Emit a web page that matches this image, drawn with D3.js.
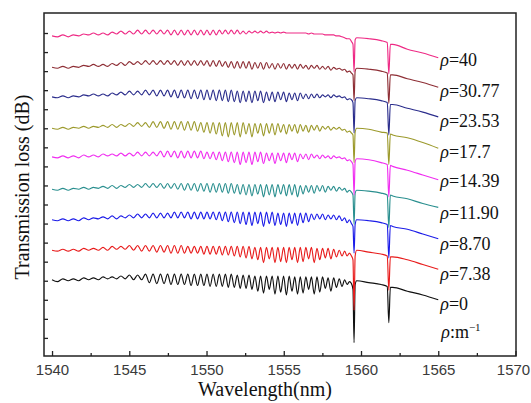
<!DOCTYPE html>
<html><head><meta charset="utf-8">
<script src="https://cdn.jsdelivr.net/npm/d3@7/dist/d3.min.js"></script>
<style>body{margin:0;background:#fff}svg{display:block}</style>
</head><body>
<svg id="c" width="531" height="403"></svg>
<script>
// ---- data (wavelength in nm, transmission loss in dB, relative to each trace's offset) ----
const rhoLabels = ["40","30.77","23.53","17.7","14.39","11.90","8.70","7.38","0"];
const colors = ["#ee2a85","#8e2e35","#2b2d8c","#9c9a2c","#f02ef0","#2a8f8f","#1c1ce8","#e81c1c","#111111"];
const offsets = [-0.3,-3.6,-6.7,-10.0,-13.0,-16.4,-19.6,-22.8,-25.9];
const xTicks = [1540,1545,1550,1555,1560,1565,1570];
const xMinor = [1542.5,1547.5,1552.5,1557.5,1562.5,1567.5];
const yTicks = [0,-2,-4,-6,-8,-10,-12,-14,-16,-18,-20,-22,-24,-26,-28,-30,-32];

const wlTops = [1540.0,1540.7,1541.38,1542.05,1542.68,1543.3,1543.89,1544.46,1545.01,1545.54,
 1546.05,1546.54,1547.02,1547.48,1547.92,1548.36,1548.79,1549.21,1549.63,1550.03,
 1550.43,1550.83,1551.22,1551.6,1551.99,1552.37,1552.75,1553.13,1553.5,1553.88,
 1554.25,1554.62,1554.99,1555.35,1555.71,1556.07,1556.43,1556.79,1557.15,1557.51,
 1557.87,1558.23,1558.59,1558.94,1559.25];
const wlDips = [1540.35,1541.05,1541.72,1542.37,1543.0,1543.6,1544.18,1544.74,1545.28,1545.8,
 1546.3,1546.78,1547.25,1547.7,1548.14,1548.57,1549.0,1549.42,1549.83,1550.23,
 1550.63,1551.02,1551.41,1551.8,1552.18,1552.56,1552.94,1553.32,1553.69,1554.06,
 1554.43,1554.8,1555.17,1555.53,1555.89,1556.25,1556.61,1556.97,1557.33,1557.69,
 1558.05,1558.41,1558.77,1559.1];
const wlTail = [1559.38,1559.48,1559.55,1559.62,1559.72,1560.5,1561.3,1561.7,1561.8,1561.9,1562.05,1563.0,1564.0,1565.0];

const tops40 = [0,0.1,0.1,0.2,0.3,0.3,0.4,0.5,0.5,0.6, 0.6,0.6,0.6,0.6,0.6,0.6,0.6,0.6,0.6,0.6, 0.6,0.6,0.6,0.6,0.6,0.5,0.5,0.5,0.5,0.5, 0.4,0.4,0.4,0.3,0.3,0.3,0.3,0.3,0.2,0.2, 0.1,0.1,0,-0.2,-0.3];
const dips40 = [-0.1,-0.1,0,0.1,0.1,0.1,0.2,0.2,0.2,0.2, 0.2,0.2,0.2,0.1,0.1,0.1,0.1,0.1,0.1,0.1, 0.1,0.2,0.2,0.2,0.2,0.2,0.3,0.3,0.3,0.3, 0.3,0.3,0.3,0.3,0.3,0.3,0.2,0.2,0.2,0.1, 0.1,0,-0.1,-0.3];
const tail40 = [-0.6,-0.9,-3.8,-0.4,-0.2,-0.3,-0.5,-0.7,-4.0,-0.9,-0.9,-1.4,-1.8,-2.3];

const tops3077 = [0,0.1,0.1,0.2,0.3,0.3,0.4,0.5,0.6,0.6, 0.7,0.7,0.7,0.7,0.7,0.7,0.7,0.7,0.7,0.7, 0.7,0.7,0.6,0.6,0.6,0.6,0.6,0.5,0.5,0.5, 0.4,0.4,0.4,0.3,0.3,0.3,0.2,0.2,0.2,0.1, 0.1,0,-0.1,-0.2,-0.4];
const dips3077 = [-0.1,-0.1,0,0.1,0.1,0.1,0.2,0.2,0.3,0.3, 0.3,0.3,0.3,0.3,0.2,0.2,0.2,0.2,0.2,0.1, 0.1,0.1,0,-0.1,-0.1,-0.1,-0.2,-0.1,-0.2,-0.1, -0.2,-0.1,-0.2,-0.1,-0.2,-0.1,-0.2,-0.1,-0.2,-0.2, -0.3,-0.2,-0.3,-0.5];
const tail3077 = [-0.6,-0.8,-3.5,-0.4,-0.1,-0.2,-0.4,-0.6,-3.8,-0.8,-0.8,-1.2,-1.6,-2.1];

const tops2353 = [0,0.1,0.1,0.2,0.3,0.3,0.4,0.5,0.6,0.6, 0.7,0.7,0.7,0.7,0.7,0.7,0.7,0.7,0.7,0.7, 0.7,0.7,0.7,0.7,0.6,0.6,0.6,0.6,0.6,0.5, 0.5,0.5,0.5,0.4,0.4,0.4,0.3,0.3,0.3,0.2, 0.2,0.2,0.1,0,-0.2];
const dips2353 = [-0.1,-0.1,0,0.1,0.1,0.1,0.2,0.2,0.2,0.2, 0.2,0.1,0.1,0,-0.1,-0.1,-0.2,-0.2,-0.3,-0.3, -0.4,-0.4,-0.5,-0.5,-0.6,-0.5,-0.6,-0.4,-0.6,-0.4, -0.5,-0.3,-0.5,-0.3,-0.4,-0.2,-0.2,-0.1,-0.1,0, -0.1,0,-0.1,-0.3];
const tail2353 = [-0.3,-0.6,-3.8,-0.4,-0.1,-0.2,-0.4,-0.6,-4.0,-0.8,-0.8,-1.2,-1.6,-2.1];

const tops177 = [0,0.1,0.1,0.2,0.2,0.3,0.4,0.4,0.5,0.6, 0.6,0.7,0.7,0.7,0.7,0.7,0.7,0.7,0.6,0.6, 0.6,0.6,0.6,0.6,0.6,0.6,0.5,0.5,0.5,0.5, 0.5,0.5,0.4,0.4,0.4,0.4,0.3,0.3,0.3,0.2, 0.2,0.1,0.1,-0.1,-0.3];
const dips177 = [-0.1,-0.1,0,0,0.1,0.1,0.1,0.2,0.2,0.2, 0.1,0.1,0,-0.1,-0.1,-0.2,-0.2,-0.3,-0.4,-0.5, -0.6,-0.8,-0.9,-0.7,-0.9,-0.6,-0.9,-0.5,-0.8,-0.5, -0.7,-0.4,-0.6,-0.3,-0.5,-0.3,-0.4,-0.2,-0.3,-0.1, -0.2,-0.1,-0.2,-0.4];
const tail177 = [-0.5,-0.7,-3.6,-0.4,0,-0.1,-0.4,-0.5,-3.8,-0.6,-0.7,-1.0,-1.5,-2.1];

const tops1439 = [0,0.1,0.1,0.2,0.2,0.3,0.3,0.4,0.4,0.5, 0.5,0.5,0.6,0.6,0.6,0.6,0.6,0.6,0.6,0.5, 0.5,0.5,0.5,0.5,0.5,0.5,0.5,0.5,0.5,0.4, 0.4,0.4,0.4,0.4,0.4,0.3,0.3,0.3,0.2,0.2, 0.1,0.1,0,-0.1,-0.3];
const dips1439 = [-0.1,-0.1,-0.1,0,0,0.1,0.1,0.1,0.1,0.1, 0.1,0.1,0,0,-0.1,-0.1,-0.1,-0.1,-0.2,-0.2, -0.3,-0.4,-0.5,-0.6,-0.8,-0.6,-0.8,-0.5,-0.7,-0.4, -0.7,-0.4,-0.6,-0.3,-0.5,-0.2,-0.3,-0.1,-0.2,-0.1, -0.2,-0.1,-0.2,-0.4];
const tail1439 = [-0.5,-0.8,-4.0,-0.5,-0.2,-0.3,-0.6,-0.8,-4.2,-0.9,-1.0,-1.4,-1.9,-2.4];

const tops1190 = [0,0.1,0.1,0.2,0.2,0.3,0.4,0.4,0.5,0.5, 0.6,0.6,0.6,0.6,0.6,0.6,0.6,0.6,0.6,0.6, 0.6,0.6,0.6,0.6,0.5,0.5,0.5,0.5,0.5,0.5, 0.5,0.5,0.5,0.5,0.5,0.4,0.4,0.4,0.4,0.4, 0.3,0.3,0.2,0.1,-0.1];
const dips1190 = [-0.1,-0.1,0,0,0.1,0.1,0.1,0.2,0.2,0.2, 0.2,0.2,0.1,0.1,0,-0.1,-0.1,-0.2,-0.2,-0.3, -0.3,-0.3,-0.4,-0.4,-0.5,-0.6,-0.7,-0.5,-0.8,-0.6, -0.8,-0.5,-0.7,-0.6,-0.8,-0.5,-0.3,-0.4,-0.2,-0.3, -0.1,-0.2,-0.1,-0.3];
const tail1190 = [-0.3,-0.6,-3.7,-0.4,-0.1,-0.2,-0.4,-0.6,-4.0,-0.6,-0.7,-1.0,-1.5,-1.9];

const tops870 = [0,0.1,0.1,0.2,0.2,0.3,0.4,0.4,0.5,0.6, 0.6,0.7,0.7,0.7,0.8,0.8,0.8,0.8,0.8,0.8, 0.8,0.8,0.8,0.8,0.8,0.8,0.8,0.8,0.8,0.8, 0.8,0.7,0.7,0.7,0.7,0.7,0.7,0.6,0.6,0.6, 0.5,0.5,0.4,0.2,0];
const dips870 = [-0.1,-0.1,-0.1,0,0.1,0.1,0.1,0.2,0.2,0.2, 0.2,0.2,0.2,0.2,0.2,0.2,0.1,0.1,0.1,0.1, 0,-0.1,-0.2,-0.3,-0.4,-0.5,-0.6,-0.4,-0.7,-0.4, -0.6,-0.5,-0.7,-0.4,-0.6,-0.3,-0.2,0,0.1,0, 0.1,0,-0.1,-0.3];
const tail870 = [-0.4,-0.7,-3.5,-0.5,0,-0.1,-0.3,-0.5,-4.0,-0.6,-0.7,-1.0,-1.5,-2.0];

const tops738 = [0,0.1,0.1,0.2,0.2,0.3,0.4,0.4,0.5,0.5, 0.5,0.5,0.5,0.5,0.5,0.5,0.4,0.4,0.4,0.4, 0.4,0.4,0.4,0.4,0.4,0.4,0.4,0.3,0.3,0.3, 0.3,0.3,0.3,0.3,0.3,0.3,0.3,0.3,0.2,0.2, 0.2,0.1,0,-0.1,-0.3];
const dips738 = [-0.1,-0.1,-0.1,0,0,0,0.1,0.1,0,-0.1, -0.1,-0.2,-0.2,-0.3,-0.3,-0.3,-0.3,-0.3,-0.4,-0.4, -0.4,-0.5,-0.5,-0.6,-0.7,-0.8,-0.9,-1.0,-1.3,-0.9, -1.3,-1.2,-1.3,-1.0,-1.3,-1.2,-0.9,-1.3,-1.0,-0.8, -0.9,-0.7,-0.6,-0.6];
const tail738 = [-0.6,-1.0,-6.3,-0.6,0,-0.2,-0.4,-0.6,-4.2,-0.7,-0.7,-1.0,-1.5,-2.0];

const tops0 = [0,0.1,0.1,0.2,0.2,0.3,0.3,0.4,0.5,0.5, 0.6,0.6,0.6,0.6,0.6,0.6,0.6,0.6,0.6,0.6, 0.6,0.6,0.6,0.6,0.5,0.5,0.5,0.4,0.4,0.4, 0.4,0.4,0.4,0.4,0.3,0.3,0.3,0.3,0.3,0.3, 0.2,0.2,0.1,0,-0.2];
const dips0 = [-0.2,-0.1,-0.1,0,0,0.1,0.1,0.1,0,0, -0.3,-0.4,-0.4,-0.5,-0.5,-0.5,-0.6,-0.6,-0.6,-0.7, -0.7,-0.7,-0.8,-0.8,-0.9,-0.9,-1.0,-1.2,-1.4,-1.0, -1.5,-1.3,-1.6,-1.2,-1.5,-1.4,-1.0,-1.5,-1.3,-0.9, -1.2,-0.8,-0.7,-0.5];
const tail0 = [-0.4,-1.0,-6.6,-0.5,-0.1,-0.3,-0.5,-0.7,-4.5,-0.8,-0.8,-1.2,-1.6,-2.1];

const allTops = [tops40,tops3077,tops2353,tops177,tops1439,tops1190,tops870,tops738,tops0];
const allDips = [dips40,dips3077,dips2353,dips177,dips1439,dips1190,dips870,dips738,dips0];
const allTails = [tail40,tail3077,tail2353,tail177,tail1439,tail1190,tail870,tail738,tail0];

// ---- layout ----
const L = 44, R = 516, T = 13, B = 356;
const x = d3.scaleLinear().domain([1539.48, 1570]).range([L, 515.5]);
const y = d3.scaleLinear().domain([-33.9, 2.1]).range([B, T]);
const svg = d3.select("#c");
const serif = "'Liberation Serif','Times New Roman',Times,serif";
const sans = "'Liberation Sans',Arial,Helvetica,sans-serif";

const series = rhoLabels.map((lab, i) => {
  const pts = [];
  for (let k = 0; k < wlTops.length; k++) {
    pts.push([wlTops[k], offsets[i] + allTops[i][k]]);
    if (k < wlDips.length) pts.push([wlDips[k], offsets[i] + allDips[i][k]]);
  }
  wlTail.forEach((w, k) => pts.push([w, offsets[i] + allTails[i][k]]));
  return {label: lab, color: colors[i], offset: offsets[i], pts};
});

const line = d3.line().x(d => x(d[0])).y(d => y(d[1])).curve(d3.curveMonotoneX);

// draw lower traces first so upper traces lie on top
svg.append("g").selectAll("path").data(series.slice().reverse()).join("path")
  .attr("d", d => line(d.pts))
  .attr("fill", "none")
  .attr("stroke", d => d.color)
  .attr("stroke-width", 1.15)
  .attr("stroke-linejoin", "round");

// axes (inward ticks)
const gx = svg.append("g").attr("transform", `translate(0,${B})`)
  .call(d3.axisBottom(x).tickValues(xTicks).tickSize(-5).tickPadding(8).tickFormat(d3.format("d")));
gx.select(".domain").remove();
gx.selectAll("text").attr("font-family", sans).attr("font-size", 15).attr("fill", "#3a3a3a")
  .attr("dx", d => d === 1570 ? -2.5 : 0);
gx.selectAll("line").attr("stroke", "#222").attr("stroke-width", 1.3);

const gxm = svg.append("g").attr("transform", `translate(0,${B})`)
  .call(d3.axisBottom(x).tickValues(xMinor).tickSize(-3).tickFormat(""));
gxm.select(".domain").remove();
gxm.selectAll("line").attr("stroke", "#222").attr("stroke-width", 1.3);

const gy = svg.append("g").attr("transform", `translate(${L},0)`)
  .call(d3.axisLeft(y).tickValues(yTicks).tickSize(-4).tickFormat(""));
gy.select(".domain").remove();
gy.selectAll("line").attr("stroke", "#222").attr("stroke-width", 1.3);

// frame
svg.append("rect").attr("x", L).attr("y", T).attr("width", R - L).attr("height", B - T)
  .attr("fill", "none").attr("stroke", "#222").attr("stroke-width", 1.5);

// titles
svg.append("text").attr("x", 265).attr("y", 396).attr("text-anchor", "middle")
  .attr("font-family", serif).attr("font-size", 20).attr("fill", "#111").text("Wavelength(nm)");
svg.append("text").attr("transform", "translate(29,187) rotate(-90)").attr("text-anchor", "middle")
  .attr("font-family", serif).attr("font-size", 20).attr("fill", "#111").text("Transmission loss (dB)");

// trace labels
const lx = x(1565) + 2;
const lab = svg.append("g").attr("font-family", serif).attr("font-size", 18).attr("fill", "#111");
series.forEach(s => {
  const t = lab.append("text").attr("x", lx).attr("y", y(s.offset) + 30);
  t.append("tspan").attr("font-style", "italic").text("ρ");
  t.append("tspan").text("=" + s.label);
});
const last = series[series.length - 1];
const u = lab.append("text").attr("x", lx + 1).attr("y", y(last.offset) + 58);
u.append("tspan").attr("font-style", "italic").text("ρ");
u.append("tspan").text(":m");
u.append("tspan").attr("font-size", 11).attr("dy", -7).text("−1");
</script>
</body></html>
